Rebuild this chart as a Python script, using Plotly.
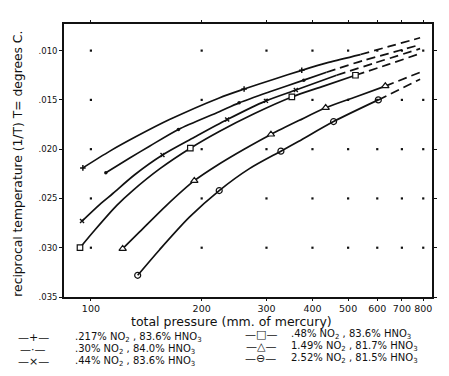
import plotly.graph_objects as go

# ---------------- data ----------------
x_ticks = [100, 200, 300, 400, 500, 600, 700, 800]
y_ticks = [0.010, 0.015, 0.020, 0.025, 0.030, 0.035]
y_tick_text = [".010", ".015", ".020", ".025", ".030", ".035"]

names = [
    ".217% NO<sub>2</sub> , 83.6% HNO<sub>3</sub>",
    ".30% NO<sub>2</sub> , 84.0% HNO<sub>3</sub>",
    ".44% NO<sub>2</sub> , 83.6% HNO<sub>3</sub>",
    ".48% NO<sub>2</sub> , 83.6% HNO<sub>3</sub>",
    "1.49% NO<sub>2</sub> , 81.7% HNO<sub>3</sub>",
    "2.52% NO<sub>2</sub> , 81.5% HNO<sub>3</sub>",
]
legend_glyphs = ["\u2014+\u2014", "\u2014\u00b7\u2014", "\u2014\u00d7\u2014",
                 "\u2014\u25a1\u2014", "\u2014\u25b3\u2014", "\u2014\u2296\u2014"]

# solid (measured) part of each curve
p1 = [95.1, 112.6, 133.1, 163.5, 223.2, 260.8, 314.3, 374.1, 442.5, 540.0]
t1 = [0.0219, 0.0202, 0.0187, 0.0170, 0.0148, 0.0139, 0.0129, 0.0120, 0.0112, 0.0104]
m1 = [0, 5, 7]

p2 = [109.8, 127.5, 144.3, 172.9, 223.2, 252.8, 304.7, 378.8, 436.9]
t2 = [0.0224, 0.0209, 0.0197, 0.0180, 0.0162, 0.0153, 0.0142, 0.0130, 0.0122]
m2 = [0, 3, 5, 7]

p3 = [94.6, 105.8, 114.7, 131.5, 156.5, 191.0, 234.6, 299.0, 360.5, 465.2]
t3 = [0.0273, 0.0256, 0.0245, 0.0226, 0.0206, 0.0188, 0.0170, 0.0151, 0.0140, 0.0125]
m3 = [0, 4, 6, 7, 8]

p4 = [93.4, 102.5, 117.6, 129.9, 153.7, 186.3, 223.2, 277.5, 351.6, 429.0, 523.5]
t4 = [0.0300, 0.0282, 0.0257, 0.0242, 0.0220, 0.0199, 0.0182, 0.0164, 0.0147, 0.0136, 0.0125]
m4 = [0, 5, 8, 10]

p5 = [122.0, 135.6, 160.5, 191.0, 223.2, 260.8, 308.5, 367.2, 434.5, 523.5, 631.0]
t5 = [0.0301, 0.0284, 0.0257, 0.0232, 0.0215, 0.0200, 0.0185, 0.0171, 0.0158, 0.0147, 0.0136]
m5 = [0, 3, 6, 8, 10]

p6 = [134.0, 153.7, 185.2, 223.2, 269.0, 328.3, 367.2, 456.5, 604.0]
t6 = [0.0328, 0.0302, 0.0269, 0.0242, 0.0220, 0.0202, 0.0192, 0.0172, 0.0150]
m6 = [0, 3, 5, 7, 8]

# dashed extrapolations
e1p = [540.0, 642.9, 784.5];          e1t = [0.0104, 0.0096, 0.0087]
e2p = [436.9, 550.2, 642.9, 784.5];   e2t = [0.0122, 0.0110, 0.0103, 0.0094]
e3p = [465.2, 585.6, 784.5];          e3t = [0.0125, 0.0113, 0.0098]
e4p = [523.5, 642.9, 784.5];          e4t = [0.0125, 0.0114, 0.0103]
e5p = [631.0, 784.5];                 e5t = [0.0136, 0.0122]
e6p = [604.0, 784.5];                 e6t = [0.0150, 0.0129]

curves = [(p1, t1, m1, e1p, e1t), (p2, t2, m2, e2p, e2t), (p3, t3, m3, e3p, e3t),
          (p4, t4, m4, e4p, e4t), (p5, t5, m5, e5p, e5t), (p6, t6, m6, e6p, e6t)]

# ---------------- styles ----------------
INK = "#111111"
FONT = "DejaVu Sans"
marker_styles = [
    dict(symbol="cross-thin", size=4, color=INK, line=dict(color=INK, width=1.5)),
    dict(symbol="circle", size=3.5, color=INK, line=dict(color=INK, width=0)),
    dict(symbol="x-thin", size=4, color=INK, line=dict(color=INK, width=1.4)),
    dict(symbol="square", size=5.5, color="white", line=dict(color=INK, width=1.2)),
    dict(symbol="triangle-up", size=6.5, color="white", line=dict(color=INK, width=1.2)),
    dict(symbol="circle-open", size=6, color=INK, line=dict(color=INK, width=1.2)),
]

fig = go.Figure()

# dotted grid marks at tick intersections
gx, gy = [], []
for yv in y_ticks[:-1]:
    for xv in x_ticks:
        gx.append(xv)
        gy.append(yv)
fig.add_trace(go.Scatter(x=gx, y=gy, mode="markers", showlegend=False, hoverinfo="skip",
                         marker=dict(symbol="square", size=2.2, color=INK)))

for i, (p, t, m, ep, et) in enumerate(curves):
    fig.add_trace(go.Scatter(x=p, y=t, mode="lines", showlegend=False, name=names[i],
                             line=dict(color=INK, width=1.7, shape="spline", smoothing=0.8)))
    fig.add_trace(go.Scatter(x=ep, y=et, mode="lines", showlegend=False,
                             line=dict(color=INK, width=1.7, dash="9px,5px",
                                       shape="spline", smoothing=0.8)))
    fig.add_trace(go.Scatter(x=[p[k] for k in m], y=[t[k] for k in m], mode="markers",
                             showlegend=False, name=names[i], marker=marker_styles[i]))

# ---------------- layout ----------------
# the page body has an 8px default margin, so the figure is drawn 8px in from the window
OFF = 8
W, H = 449 - OFF, 376 - OFF
L, R, T, B = 64 - OFF, 15, 21 - OFF, 79
pw, ph = W - L - R, H - T - B


def px_to_paper(xpx, ypx):
    return (xpx - OFF - L) / pw, (H - B - (ypx - OFF)) / ph


annotations = []
ax, ay = px_to_paper(232, 322)
annotations.append(dict(text="total pressure (mm. of mercury)", x=ax, y=ay, xref="paper",
                        yref="paper", showarrow=False, xanchor="center", yanchor="middle",
                        font=dict(family=FONT, size=12.5, color=INK)))
ax, ay = px_to_paper(18, 162)
annotations.append(dict(text="reciprocal temperature (1/T) T= degrees C.", x=ax, y=ay,
                        xref="paper", yref="paper", showarrow=False, textangle=-90,
                        xanchor="center", yanchor="middle",
                        font=dict(family=FONT, size=12.3, color=INK)))

legend_rows = [(33, 73, 338), (33, 73, 350), (33, 73, 362),
               (262, 290, 335), (262, 290, 347), (262, 290, 359)]
for i, (sx, tx, ry) in enumerate(legend_rows):
    a, b = px_to_paper(sx, ry)
    annotations.append(dict(text=legend_glyphs[i], x=a, y=b, xref="paper", yref="paper",
                            showarrow=False, xanchor="center", yanchor="middle",
                            font=dict(family=FONT, size=11, color=INK)))
    a, b = px_to_paper(tx, ry)
    annotations.append(dict(text=names[i], x=a, y=b, xref="paper", yref="paper",
                            showarrow=False, xanchor="left", yanchor="middle",
                            font=dict(family=FONT, size=10, color=INK)))

fig.update_layout(
    width=W, height=H,
    margin=dict(l=L, r=R, t=T, b=B, pad=0),
    paper_bgcolor="white", plot_bgcolor="white",
    showlegend=False,
    font=dict(family=FONT, color=INK),
    annotations=annotations,
)
fig.update_xaxes(type="log", range=[1.9269, 2.9269], tickvals=x_ticks,
                 ticktext=[str(v) for v in x_ticks], showgrid=False, zeroline=False,
                 showline=True, linecolor=INK, linewidth=1.6, mirror="ticks",
                 ticks="outside", ticklen=2, tickwidth=1.2, tickcolor=INK,
                 tickfont=dict(family=FONT, size=9.5, color=INK))
fig.update_yaxes(range=[0.035, 0.0073], tickvals=y_ticks, ticktext=y_tick_text,
                 showgrid=False, zeroline=False, showline=True, linecolor=INK,
                 linewidth=1.6, mirror="ticks", ticks="outside", ticklen=3,
                 tickwidth=1.2, tickcolor=INK,
                 tickfont=dict(family=FONT, size=8.5, color=INK))

fig.write_html("out.html")
